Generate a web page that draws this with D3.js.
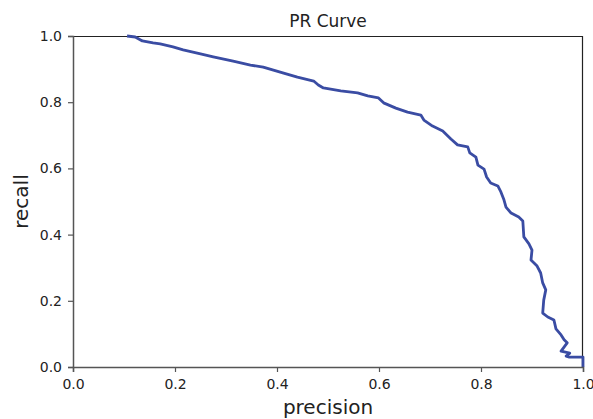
<!DOCTYPE html>
<html>
<head>
<meta charset="utf-8">
<script src="https://cdn.jsdelivr.net/npm/d3@7"></script>
<style>
  body { margin: 0; background: #fff; }
  svg { display: block; font-family: "DejaVu Sans", sans-serif; }
</style>
</head>
<body>
<svg width="593" height="419"></svg>
<script>
// PR curve points
const precision = [0.106, 0.122, 0.136, 0.157, 0.171, 0.196, 0.216, 0.250, 0.275, 0.314,
  0.348, 0.373, 0.393, 0.413, 0.440, 0.472, 0.481, 0.491, 0.525, 0.558,
  0.578, 0.599, 0.609, 0.633, 0.656, 0.682, 0.688, 0.705, 0.725, 0.741,
  0.754, 0.774, 0.778, 0.790, 0.794, 0.806, 0.811, 0.819, 0.833, 0.839,
  0.845, 0.849, 0.859, 0.874, 0.882, 0.884, 0.894, 0.900, 0.898, 0.910,
  0.917, 0.921, 0.927, 0.923, 0.921, 0.931, 0.943, 0.947, 0.957, 0.963,
  0.969, 0.957, 0.974, 0.967, 0.972, 1.0, 1.0];
const recall = [1.0, 0.997, 0.985, 0.979, 0.976, 0.967, 0.958, 0.946, 0.937, 0.924,
  0.912, 0.906, 0.897, 0.888, 0.876, 0.864, 0.852, 0.843, 0.834, 0.828,
  0.819, 0.813, 0.798, 0.782, 0.770, 0.761, 0.746, 0.728, 0.713, 0.689,
  0.671, 0.665, 0.647, 0.634, 0.610, 0.598, 0.574, 0.556, 0.547, 0.529,
  0.505, 0.483, 0.465, 0.453, 0.441, 0.393, 0.372, 0.353, 0.323, 0.305,
  0.284, 0.254, 0.233, 0.202, 0.163, 0.151, 0.142, 0.115, 0.097, 0.082,
  0.073, 0.048, 0.042, 0.033, 0.030, 0.030, 0.0];
const ticks = [0, 0.2, 0.4, 0.6, 0.8, 1.0];

const svg = d3.select("svg");
const area = { left: 73, right: 583, top: 36, bottom: 367 };

const scX = d3.scaleLinear().domain([0, 1]).range([area.left, area.right]);
const scY = d3.scaleLinear().domain([0, 1]).range([area.bottom, area.top]);

const pts = precision.map((p, i) => ({ p: p, r: recall[i] }));

// frame top / right
svg.append("line")
  .attr("x1", area.left).attr("x2", area.right)
  .attr("y1", area.top + 0.5).attr("y2", area.top + 0.5)
  .attr("stroke", "#222").attr("stroke-width", 1.2);
svg.append("line")
  .attr("x1", area.right - 0.5).attr("x2", area.right - 0.5)
  .attr("y1", area.top).attr("y2", area.bottom)
  .attr("stroke", "#222").attr("stroke-width", 1.2);

// curve
const line = d3.line().x(d => scX(d.p)).y(d => scY(d.r));
svg.append("path")
  .datum(pts)
  .attr("d", line)
  .attr("fill", "none")
  .attr("stroke", "#3a4ca3")
  .attr("stroke-width", 2.8)
  .attr("stroke-linejoin", "round");

// axes
const axisX = d3.axisBottom(scX).tickValues(ticks).tickFormat(d3.format(".1f")).tickSize(5).tickPadding(7.5);
const axisY = d3.axisLeft(scY).tickValues(ticks).tickFormat(d3.format(".1f")).tickSize(5).tickPadding(6);

const gx = svg.append("g")
  .attr("transform", `translate(0, ${area.bottom})`)
  .call(axisX);
const gy = svg.append("g")
  .attr("transform", `translate(${area.left}, 0)`)
  .call(axisY);

[gx, gy].forEach(g => {
  g.select(".domain").attr("stroke", "#555").attr("stroke-width", 1.5);
  g.selectAll(".tick line").attr("stroke", "#555").attr("stroke-width", 1.2);
  g.selectAll(".tick text")
    .attr("fill", "#222")
    .style("font-size", "14px")
    .style("font-family", "DejaVu Sans");
});

// title and labels
svg.append("text")
  .attr("x", (area.left + area.right) / 2)
  .attr("y", 27)
  .attr("text-anchor", "middle")
  .style("font-size", "17px")
  .attr("fill", "#222")
  .text("PR Curve");

svg.append("text")
  .attr("x", (area.left + area.right) / 2)
  .attr("y", 414)
  .attr("text-anchor", "middle")
  .style("font-size", "20px")
  .attr("fill", "#222")
  .text("precision");

svg.append("text")
  .attr("transform", `translate(28, ${(area.top + area.bottom) / 2}) rotate(-90)`)
  .attr("text-anchor", "middle")
  .style("font-size", "20px")
  .attr("fill", "#222")
  .text("recall");
</script>
</body>
</html>
